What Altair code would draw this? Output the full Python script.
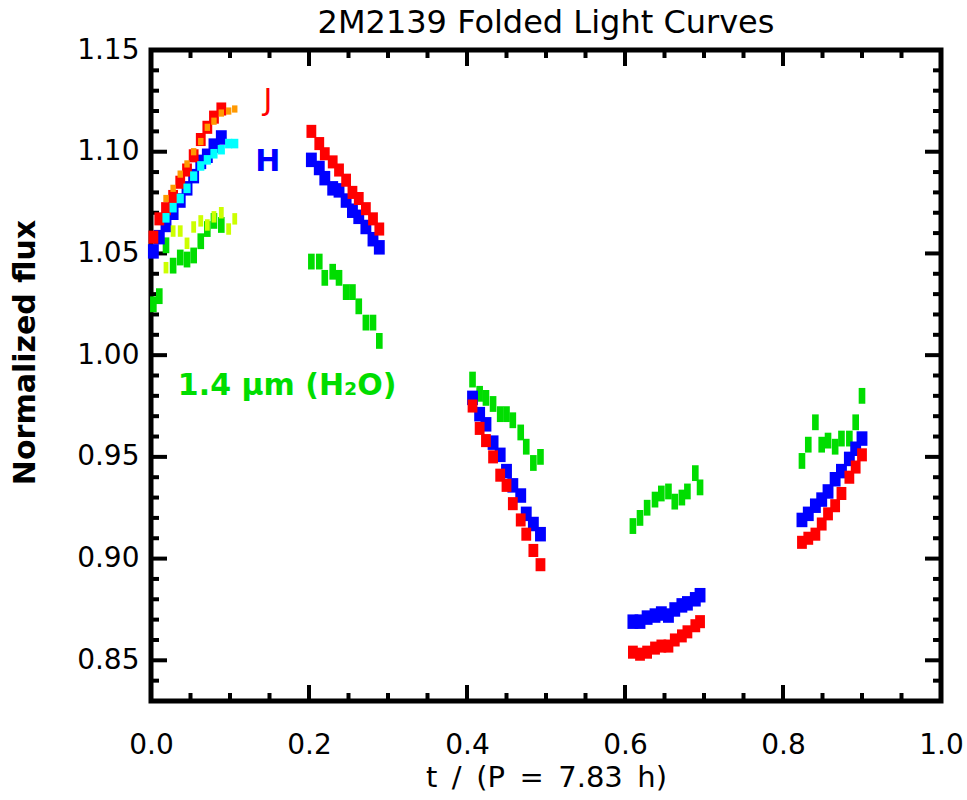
import altair as alt
import pandas as pd

FONT = "DejaVu Sans"

# ---- phase positions ----
t_seg1_a = [0.003, 0.0105, 0.019, 0.028, 0.037, 0.0456, 0.054, 0.063, 0.0713, 0.0797, 0.089]
t_seg1_b = [0.019, 0.028, 0.037, 0.0456, 0.054, 0.063, 0.0713, 0.0797, 0.089, 0.0983, 0.106]
t_seg2 = [0.203, 0.213, 0.220, 0.230, 0.238, 0.247, 0.255, 0.263, 0.272, 0.281, 0.289]
t_seg3 = [0.407, 0.416, 0.424, 0.433, 0.442, 0.450, 0.458, 0.468, 0.475, 0.484, 0.493]
t_seg4 = [0.610, 0.619, 0.628, 0.638, 0.646, 0.655, 0.663, 0.672, 0.679, 0.689, 0.695]
t_seg5 = [0.824, 0.832, 0.841, 0.849, 0.857, 0.866, 0.874, 0.884, 0.892, 0.900]

# ---- J band (red) ----
J_seg1 = [1.058, 1.067, 1.072, 1.078, 1.085, 1.091, 1.098, 1.106, 1.112, 1.117, 1.121]
J_seg2 = [1.110, 1.104, 1.099, 1.095, 1.091, 1.086, 1.080, 1.077, 1.072, 1.067, 1.062]
J_seg3 = [0.975, 0.964, 0.958, 0.950, 0.941, 0.936, 0.927, 0.919, 0.912, 0.904, 0.897]
J_seg4 = [0.854, 0.853, 0.854, 0.856, 0.857, 0.857, 0.860, 0.862, 0.864, 0.867, 0.869]
J_seg5 = [0.908, 0.910, 0.912, 0.917, 0.922, 0.926, 0.932, 0.940, 0.945, 0.951]

# ---- H band (blue) ----
H_seg1 = [1.051, 1.058, 1.064, 1.070, 1.076, 1.082, 1.088, 1.095, 1.098, 1.103, 1.107]
H_seg2 = [1.096, 1.092, 1.087, 1.082, 1.081, 1.076, 1.071, 1.068, 1.063, 1.057, 1.053]
H_seg3 = [0.979, 0.971, 0.966, 0.957, 0.951, 0.943, 0.936, 0.931, 0.922, 0.917, 0.912]
H_seg4 = [0.869, 0.869, 0.871, 0.872, 0.873, 0.872, 0.875, 0.877, 0.878, 0.880, 0.882]
H_seg5 = [0.919, 0.922, 0.926, 0.929, 0.933, 0.939, 0.943, 0.949, 0.954, 0.959]

# ---- 1.4 micron water band (green) ----
W_seg1 = [1.025, 1.029, 1.054, 1.044, 1.048, 1.047, 1.049, 1.056, 1.062, 1.066, 1.064]
W_seg2 = [1.046, 1.046, 1.038, 1.041, 1.038, 1.031, 1.031, 1.024, 1.016, 1.016, 1.007]
W_seg3 = [0.988, 0.981, 0.979, 0.976, 0.971, 0.971, 0.968, 0.962, 0.955, 0.947, 0.950]
W_seg4 = [0.916, 0.920, 0.925, 0.929, 0.932, 0.933, 0.928, 0.930, 0.933, 0.942, 0.935]
W_seg5 = [0.948, 0.956, 0.967, 0.956, 0.958, 0.955, 0.959, 0.959, 0.967, 0.980]

# ---- second pass over the first segment (orange / cyan / yellow-green) ----
J2_seg1 = [1.077, 1.082, 1.089, 1.094, 1.100, 1.105, 1.112, 1.115, 1.119, 1.120, 1.121]
H2_seg1 = [1.0675, 1.0725, 1.077, 1.082, 1.088, 1.093, 1.096, 1.099, 1.101, 1.104, 1.104]
W2_seg1 = [1.043, 1.061, 1.061, 1.055, 1.063, 1.066, 1.064, 1.068, 1.070, 1.062, 1.067]

bands = ["W", "H", "J", "W2", "H2", "J2"]
band_colors = ["#00dd00", "#0000ff", "#ff0000", "#ccff00", "#00ffff", "#ff9900"]
RECT = "M-0.75,-1H0.75V1H-0.75Z"
TALL = "M-0.42,-1H0.42V1H-0.42Z"
band_shapes = [TALL, RECT, RECT, TALL, RECT, RECT]
band_sizes = [250, 52, 52, 250, 52, 52]

x_major = [0.0, 0.2, 0.4, 0.6, 0.8, 1.0]
x_minor = [0.05, 0.10, 0.15, 0.25, 0.30, 0.35, 0.45, 0.50, 0.55, 0.65, 0.70, 0.75, 0.85, 0.90, 0.95]
y_major = [0.85, 0.90, 0.95, 1.00, 1.05, 1.10, 1.15]
y_minor = [round(0.84 + 0.01 * i, 2) for i in range(31)]
y_minor = [v for v in y_minor if round(v * 100) % 5 != 0]

rows = []
def add(band, ts, vs):
    for t, v in zip(ts, vs):
        rows.append({"t": t, "flux": v, "band": band})

add("W", t_seg1_a, W_seg1); add("W", t_seg2, W_seg2); add("W", t_seg3, W_seg3)
add("W", t_seg4, W_seg4); add("W", t_seg5, W_seg5)
add("H", t_seg1_a, H_seg1); add("H", t_seg2, H_seg2); add("H", t_seg3, H_seg3)
add("H", t_seg4, H_seg4); add("H", t_seg5, H_seg5)
add("J", t_seg1_a, J_seg1); add("J", t_seg2, J_seg2); add("J", t_seg3, J_seg3)
add("J", t_seg4, J_seg4); add("J", t_seg5, J_seg5)
add("W2", t_seg1_b, W2_seg1); add("H2", t_seg1_b, H2_seg1); add("J2", t_seg1_b, J2_seg1)
df = pd.DataFrame(rows)

W, H = 790, 651
xscale = alt.Scale(domain=[0, 1], nice=False, zero=False)
yscale = alt.Scale(domain=[0.83, 1.15], nice=False, zero=False)

XTITLE = "t\u2002/\u2002(P\u2002=\u20027.83\u2002h)"
xaxis = alt.Axis(values=x_major, format=".1f", title=XTITLE, ticks=False,
                 domain=False, grid=False, labelFontSize=28, labelPadding=30,
                 labelFont=FONT, titleFont=FONT, titleFontSize=29, titleFontWeight="normal",
                 titleY=76, titleBaseline="middle", labelColor="black", titleColor="black",
                 labelFlush=False, labelOverlap=False)
yaxis = alt.Axis(values=y_major, format=".2f", title="Normalized flux", ticks=False,
                 domain=False, grid=False, labelFontSize=28, labelPadding=12,
                 labelFont=FONT, titleFont=FONT, titleFontSize=30, titleFontWeight="bold",
                 titleX=-126, titleY=302, titleBaseline="middle", titleAlign="center",
                 labelColor="black", titleColor="black", labelOverlap=False)

points = alt.Chart(df).mark_point(filled=True, opacity=1, strokeWidth=0).encode(
    x=alt.X("t:Q", scale=xscale, axis=xaxis),
    y=alt.Y("flux:Q", scale=yscale, axis=yaxis),
    color=alt.Color("band:N", scale=alt.Scale(domain=bands, range=band_colors), legend=None),
    shape=alt.Shape("band:N", scale=alt.Scale(domain=bands, range=band_shapes), legend=None),
    size=alt.Size("band:N", scale=alt.Scale(domain=bands, range=band_sizes), legend=None),
    order=alt.Order("idx:Q"),
).transform_window(idx="row_number()")

def yticks(vals, length):
    d = pd.DataFrame({"v": vals})
    left = alt.Chart(d).mark_rule(color="black", strokeWidth=4).encode(
        y=alt.Y("v:Q", scale=yscale, axis=yaxis), x=alt.value(0), x2=alt.value(length))
    right = alt.Chart(d).mark_rule(color="black", strokeWidth=4).encode(
        y=alt.Y("v:Q", scale=yscale, axis=yaxis), x=alt.value(W), x2=alt.value(W - length))
    return [left, right]

def xticks(vals, length):
    d = pd.DataFrame({"v": vals})
    bottom = alt.Chart(d).mark_rule(color="black", strokeWidth=4).encode(
        x=alt.X("v:Q", scale=xscale, axis=xaxis), y=alt.value(H), y2=alt.value(H - length))
    top = alt.Chart(d).mark_rule(color="black", strokeWidth=4).encode(
        x=alt.X("v:Q", scale=xscale, axis=xaxis), y=alt.value(0), y2=alt.value(length))
    return [bottom, top]

lab_J = pd.DataFrame({"t": [0.148], "flux": [1.125], "txt": ["J"]})
lab_H = pd.DataFrame({"t": [0.148], "flux": [1.095], "txt": ["H"]})
lab_W = pd.DataFrame({"t": [0.034], "flux": [0.985], "txt": ["1.4 μm (H₂O)"]})

def label(d, color, size, weight, align):
    return alt.Chart(d).mark_text(color=color, fontSize=size, fontWeight=weight, font=FONT,
                                  align=align, baseline="middle").encode(
        x=alt.X("t:Q", scale=xscale, axis=xaxis),
        y=alt.Y("flux:Q", scale=yscale, axis=yaxis), text="txt:N")

layers = (yticks(y_minor, 8) + yticks(y_major, 16) + xticks(x_minor, 8) + xticks(x_major, 16)
          + [points,
             label(lab_J, "#ff0000", 30, "normal", "center"),
             label(lab_H, "#0000ff", 30, "bold", "center"),
             label(lab_W, "#00dd00", 30, "bold", "left")])

chart = alt.layer(*layers).properties(
    width=W, height=H,
    title=alt.TitleParams("2M2139 Folded Light Curves", fontSize=32, font=FONT,
                          fontWeight="normal", anchor="middle", offset=-4, color="black"),
    autosize=alt.AutoSizeParams(type="none"),
    padding={"left": 151, "top": 50, "right": 26, "bottom": 99},
    background="white",
).configure_view(stroke="black", strokeWidth=5)

chart.save("out.html", embed_options={"renderer": "svg", "actions": False})
